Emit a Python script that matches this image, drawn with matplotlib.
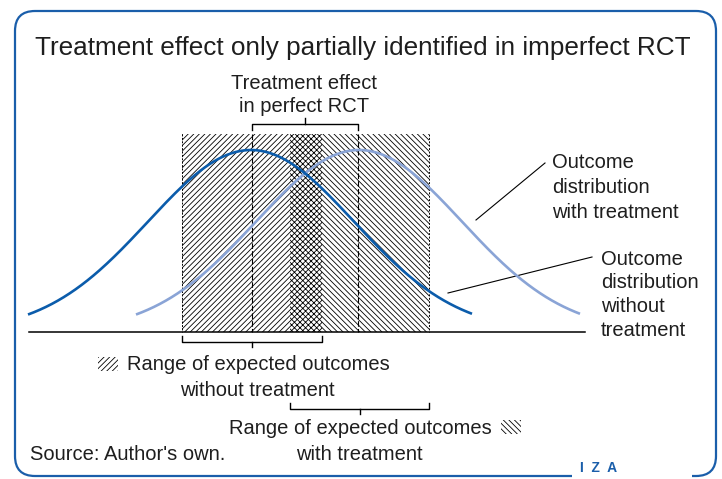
import numpy as np
import matplotlib
matplotlib.use("Agg")
import matplotlib.pyplot as plt
from matplotlib.patches import Rectangle, FancyBboxPatch

# chart values (outcome axis in drawing units, y measured downwards from top)
means = {"without": 251, "with": 359}
sd = 103
peak_height = 182
curve_extent = {"without": (28, 472), "with": (136, 580)}
range_without = (182, 322)
range_with = (290, 429)
effect_perfect = (252, 358)
baseline_y = 332
hatch_top = 134

DARK = "#0b5cab"
LIGHT = "#8aa4d6"
FRAME = "#1a5eaa"
TXT = "#1e1e1e"
FS = 14.5

plt.rcParams["font.family"] = ["Liberation Sans", "DejaVu Sans"]
plt.rcParams["hatch.linewidth"] = 0.6

fig = plt.figure(figsize=(7.22, 4.79), dpi=100)
ax = fig.add_axes([0, 0, 1, 1])
ax.set_xlim(0, 722)
ax.set_ylim(479, 0)
ax.axis("off")

# frame with gap for logo
frame = FancyBboxPatch((15, 11), 701, 465, boxstyle="round,pad=0,rounding_size=20",
                       fc="white", ec=FRAME, lw=1.6, zorder=0)
ax.add_patch(frame)
ax.add_patch(Rectangle((572, 472), 120, 8, fc="white", ec="none", zorder=1))

# hatched ranges
h = baseline_y - hatch_top
ax.add_patch(Rectangle((range_without[0], hatch_top), range_with[0] - range_without[0], h,
                       fc="white", ec="black", lw=0, hatch="/" * 6, zorder=2))
ax.add_patch(Rectangle((range_with[0], hatch_top), range_without[1] - range_with[0], h,
                       fc="white", ec="black", lw=0, hatch="x" * 6, zorder=2))
ax.add_patch(Rectangle((range_without[1], hatch_top), range_with[1] - range_without[1], h,
                       fc="white", ec="black", lw=0, hatch="\\" * 6, zorder=2))

for xv in [range_without[0], range_with[1]]:
    ax.plot([xv, xv], [hatch_top, baseline_y], color="black", lw=0.7, ls=(0, (2, 1.5)), zorder=3)
for xv in effect_perfect:
    ax.plot([xv, xv], [hatch_top, baseline_y], color="black", lw=0.8, ls=(0, (5, 2)), zorder=3)

# outcome distributions
for key, col in [("with", LIGHT), ("without", DARK)]:
    x = np.linspace(curve_extent[key][0], curve_extent[key][1], 300)
    y = baseline_y - peak_height * np.exp(-0.5 * ((x - means[key]) / sd) ** 2)
    ax.plot(x, y, color=col, lw=1.9, solid_capstyle="butt", zorder=4)

ax.plot([29, 585], [baseline_y, baseline_y], color="black", lw=1.1, zorder=5)


def brace(x0, x1, y, tip, d):
    # d: +1 = ends point up (tip down), -1 = ends point down (tip up)
    xm = (x0 + x1) / 2
    ax.plot([x0, x0, x1, x1], [y - d * 6, y, y, y - d * 6], color="black", lw=1, zorder=5)
    ax.plot([xm, xm], [y, y + d * tip], color="black", lw=1, zorder=5)


brace(effect_perfect[0], effect_perfect[1], 124, 6, -1)
brace(range_without[0], range_without[1], 342, 5, 1)
brace(range_with[0], range_with[1], 409, 5, 1)

# texts
ax.text(363, 55, "Treatment effect only partially identified in imperfect RCT",
        ha="center", va="baseline", fontsize=18.8, color=TXT)
ax.text(304, 89, "Treatment effect", ha="center", va="baseline", fontsize=FS, color=TXT)
ax.text(304, 112, "in perfect RCT", ha="center", va="baseline", fontsize=FS, color=TXT)

for i, s in enumerate(["Outcome", "distribution", "with treatment"]):
    ax.text(552, 168 + i * 25, s, ha="left", va="baseline", fontsize=FS, color=TXT)
for i, s in enumerate(["Outcome", "distribution", "without", "treatment"]):
    ax.text(601, 265 + i * 23.5, s, ha="left", va="baseline", fontsize=FS, color=TXT)
ax.plot([476, 545], [220, 163], color="black", lw=0.8)
ax.plot([448, 592], [293, 257], color="black", lw=0.8)

ax.add_patch(Rectangle((98, 357), 20, 14, fc="white", ec="black", lw=0, hatch="/" * 6))
ax.text(127, 370, "Range of expected outcomes", ha="left", va="baseline", fontsize=FS, color=TXT)
ax.text(257, 396, "without treatment", ha="center", va="baseline", fontsize=FS, color=TXT)
ax.add_patch(Rectangle((501, 420), 20, 14, fc="white", ec="black", lw=0, hatch="\\" * 6))
ax.text(492, 434, "Range of expected outcomes", ha="right", va="baseline", fontsize=FS, color=TXT)
ax.text(359, 460, "with treatment", ha="center", va="baseline", fontsize=FS, color=TXT)
ax.text(30, 460, "Source: Author's own.", ha="left", va="baseline", fontsize=FS, color=TXT)
ax.text(580, 472, "I  Z  A", ha="left", va="baseline", fontsize=10, fontweight="bold", color=FRAME)

fig.savefig("out.png", dpi=100)
